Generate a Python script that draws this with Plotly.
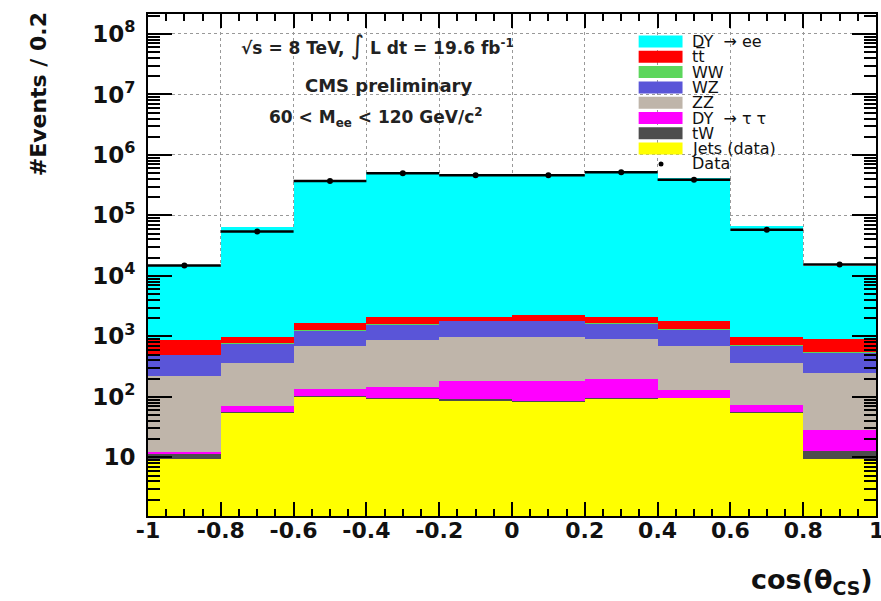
import plotly.graph_objects as go

# Binning in cos(theta_CS): 10 bins of width 0.2 between -1 and 1
bin_centers = [-0.9, -0.7, -0.5, -0.3, -0.1, 0.1, 0.3, 0.5, 0.7, 0.9]
bin_width = 0.2

# Stacked background/signal contributions per bin (events / 0.2)
jets_data = [9.5, 56, 100, 94, 86, 83, 93, 96, 55, 9.4]
tw = [2.2, 1.2, 1.5, 2, 5, 3, 2, 1.5, 1.2, 3.4]
dy_tautau = [0.4, 14, 33, 50, 95, 100, 103, 30, 17, 16]
zz = [210, 298, 546, 715, 787, 787, 704, 553, 296, 223]
wz = [273, 385, 573, 740, 830, 830, 740, 610, 350, 289]
ww = [4, 10, 12, 18, 10, 10, 10, 15, 7, 4]
ttbar = [357, 210, 400, 440, 313, 480, 430, 524, 247, 361]
dy_ee = [13500, 62800, 373000, 496000, 459000, 459000, 508000, 410000, 66000, 13400]

# Observed data
data_counts = [14800, 54000, 372000, 498000, 461000, 461000, 515000, 387000, 58000, 15400]

x_ticks = [-1, -0.8, -0.6, -0.4, -0.2, 0, 0.2, 0.4, 0.6, 0.8, 1]
x_ticktext = ["-1", "-0.8", "-0.6", "-0.4", "-0.2", "0", "0.2", "0.4", "0.6", "0.8", "1"]
y_ticks = [10, 1e2, 1e3, 1e4, 1e5, 1e6, 1e7, 1e8]
y_ticktext = ["10", "10<sup>2</sup>", "10<sup>3</sup>", "10<sup>4</sup>",
              "10<sup>5</sup>", "10<sup>6</sup>", "10<sup>7</sup>", "10<sup>8</sup>"]

# (label, values, colour), bottom of the stack first
stack = [
    ("Jets (data)", jets_data, "#FFFF00"),
    ("tW", tw, "#4D4D4D"),
    ("DY  \u2192 \u03c4 \u03c4", dy_tautau, "#FF00FF"),
    ("ZZ", zz, "#BFB5AA"),
    ("WZ", wz, "#5A55D8"),
    ("WW", ww, "#5CD65C"),
    ("tt\u0305", ttbar, "#FF0000"),
    ("DY  \u2192 ee", dy_ee, "#00FFFF"),
]

FONT = "DejaVu Sans, Liberation Sans, Arial, sans-serif"

fig = go.Figure()
for name, vals, col in stack:
    fig.add_trace(go.Bar(
        x=bin_centers, y=vals, width=bin_width, name=name,
        marker=dict(color=col, line=dict(width=0)),
        showlegend=False,
    ))

fig.add_trace(go.Scatter(
    x=bin_centers, y=data_counts, mode="markers", name="Data",
    marker=dict(color="black", size=6),
    error_x=dict(type="constant", value=bin_width / 2, thickness=2.5, width=0, color="black"),
    showlegend=False,
))

# Plot-area geometry in pixels (used for the hand-drawn legend and labels)
W, H = 881, 601
L, R, T, B = 148, 3, 14, 85
pw, ph = W - L - R, H - T - B


def px_x(px):
    return (px - L) / pw


def px_y(py):
    return (H - B - py) / ph


shapes = []
annotations = []

# Legend: top entry is the top of the stack
legend_entries = [(n, c) for n, _, c in reversed(stack)]
y0 = 41.5
pitch = 15.3
for i, (name, col) in enumerate(legend_entries):
    yc = y0 + i * pitch
    shapes.append(dict(type="rect", xref="paper", yref="paper",
                       x0=px_x(640), x1=px_x(684), y0=px_y(yc + 6), y1=px_y(yc - 6),
                       fillcolor=col, line=dict(width=0), layer="above"))
    annotations.append(dict(x=px_x(691), y=px_y(yc), xref="paper", yref="paper",
                            text=name, showarrow=False, xanchor="left", yanchor="middle",
                            font=dict(family=FONT, size=16, color="#111")))
yd = y0 + len(legend_entries) * pitch
shapes.append(dict(type="circle", xref="paper", yref="paper",
                   x0=px_x(660), x1=px_x(665), y0=px_y(yd + 2.5), y1=px_y(yd - 2.5),
                   fillcolor="black", line=dict(width=0), layer="above"))
annotations.append(dict(x=px_x(691), y=px_y(yd), xref="paper", yref="paper",
                        text="Data", showarrow=False, xanchor="left", yanchor="middle",
                        font=dict(family=FONT, size=16, color="#111")))

# Labels inside the frame
annotations += [
    dict(x=px_x(378), y=px_y(45), xref="paper", yref="paper", showarrow=False,
         text="<b>\u221as = 8 TeV, </b><span style='font-size:26px'>\u222b</span><b> L dt = 19.6 fb<sup>-1</sup></b>",
         font=dict(family=FONT, size=17, color="#222"), xanchor="center", yanchor="middle"),
    dict(x=px_x(389), y=px_y(86), xref="paper", yref="paper", showarrow=False,
         text="<b>CMS preliminary</b>",
         font=dict(family=FONT, size=18, color="#222"), xanchor="center", yanchor="middle"),
    dict(x=px_x(377), y=px_y(117), xref="paper", yref="paper", showarrow=False,
         text="<b>60 < M<sub>ee</sub> < 120 GeV/c<sup>2</sup></b>",
         font=dict(family=FONT, size=17, color="#222"), xanchor="center", yanchor="middle"),
    # Last x tick label sits at the very edge of the frame
    dict(x=1, y=px_y(530), xref="paper", yref="paper", showarrow=False,
         text="<b>1</b>", font=dict(family=FONT, size=22, color="#111"),
         xanchor="center", yanchor="middle"),
    # Axis titles
    dict(x=px_x(877), y=px_y(582), xref="paper", yref="paper", showarrow=False,
         text="<b>cos(\u03b8<sub>CS</sub>)</b>",
         font=dict(family=FONT, size=27, color="#111"), xanchor="right", yanchor="middle"),
    dict(x=px_x(38), y=px_y(10), xref="paper", yref="paper", showarrow=False,
         text="<b>#Events / 0.2</b>", textangle=-90,
         font=dict(family=FONT, size=22, color="#111"), xanchor="center", yanchor="top"),
]

fig.update_layout(
    width=W, height=H,
    margin=dict(l=L, r=R, t=T, b=B, pad=0),
    paper_bgcolor="white", plot_bgcolor="white",
    barmode="stack", bargap=0,
    showlegend=False,
    shapes=shapes, annotations=annotations,
    xaxis=dict(
        range=[-1, 1], tickvals=x_ticks,
        ticktext=["<b>%s</b>" % t if t != "1" else "" for t in x_ticktext],
        ticks="inside", ticklen=14, tickwidth=2, tickcolor="black",
        showline=True, linewidth=2, linecolor="black", mirror="allticks",
        showgrid=True, gridcolor="#999999", griddash="dot", gridwidth=1,
        zeroline=False,
        minor=dict(dtick=0.05, ticks="inside", ticklen=7, tickwidth=2,
                   tickcolor="black", showgrid=False),
        tickfont=dict(family=FONT, size=22, color="#111"),
        ticklabelstandoff=-6,
    ),
    yaxis=dict(
        type="log", range=[0.03, 8.33], tickvals=y_ticks,
        ticktext=["<b>%s</b>" % t for t in y_ticktext],
        ticks="inside", ticklen=24, tickwidth=2, tickcolor="black",
        showline=True, linewidth=2, linecolor="black", mirror="allticks",
        showgrid=True, gridcolor="#999999", griddash="dot", gridwidth=1,
        zeroline=False,
        minor=dict(dtick="D1", ticks="inside", ticklen=12, tickwidth=1.5,
                   tickcolor="black", showgrid=False),
        tickfont=dict(family=FONT, size=23, color="#111"),
        ticklabelstandoff=6,
    ),
)

fig.write_html("out.html")
